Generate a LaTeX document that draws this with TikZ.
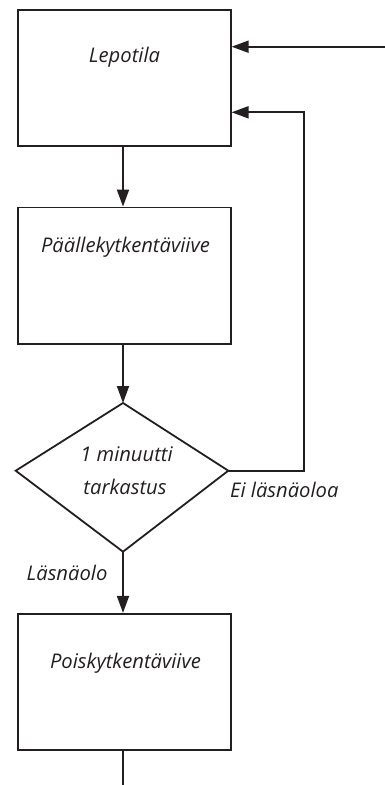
\documentclass[tikz,border=0pt]{standalone}
\usepackage{fontspec}
\setmainfont{Open Sans}
\usetikzlibrary{arrows.meta}
\definecolor{ink}{RGB}{35,31,32}
\begin{document}
\begin{tikzpicture}[x=1pt,y=-1pt,
  boxsty/.style={draw=ink,line width=1.8pt,minimum width=212.4pt,minimum height=136.4pt,inner sep=0pt},
  txt/.style={text=ink,font=\fontsize{20.2}{24}\selectfont\itshape,inner sep=0pt,anchor=base},
  conn/.style={draw=ink,line width=1.8pt},
  arr/.style={conn,-{Triangle[length=17pt,width=12pt]}}]
\useasboundingbox (0,0) rectangle (385,785);
\node[boxsty] (b1) at (124.5,78) {};
\node[boxsty] (b2) at (124.5,275.7) {};
\node[boxsty] (b3) at (124.5,682) {};
\node[txt] (t1) at (124.5,62) {Lepotila};
\node[txt] (t2) at (125.5,252) {Päällekytkentäviive};
\node[txt] (t3) at (125.5,668) {Poiskytkentäviive};
\coordinate (dt) at (123,403);
\coordinate (dl) at (15.7,470.7);
\coordinate (dr) at (228.3,470.7);
\coordinate (db) at (123,551.7);
\draw[conn,line join=miter] (dt) -- (dr) -- (db) -- (dl) -- cycle;
\node[txt] (d1) at (126.5,461.7) {1 minuutti};
\node[txt] (d2) at (125,494) {tarkastus};
\node[txt,anchor=base west] (lno) at (230,497) {Ei läsnäoloa};
\node[txt,anchor=base west] (lyes) at (26.5,580) {Läsnäolo};
\coordinate (in) at (385,46.7);
\coordinate (fb) at (304.3,112.3);
\coordinate (out) at (123,785);
\draw[arr] (in) -- (in -| b1.east);
\draw[arr] (dr) -| (fb) -- (fb -| b1.east);
\draw[arr] (b1.south -| dt) -- (b2.north -| dt);
\draw[arr] (b2.south -| dt) -- (dt);
\draw[arr] (db) -- (b3.north -| db);
\draw[conn] (b3.south -| out) -- (out);
\end{tikzpicture}
\end{document}
